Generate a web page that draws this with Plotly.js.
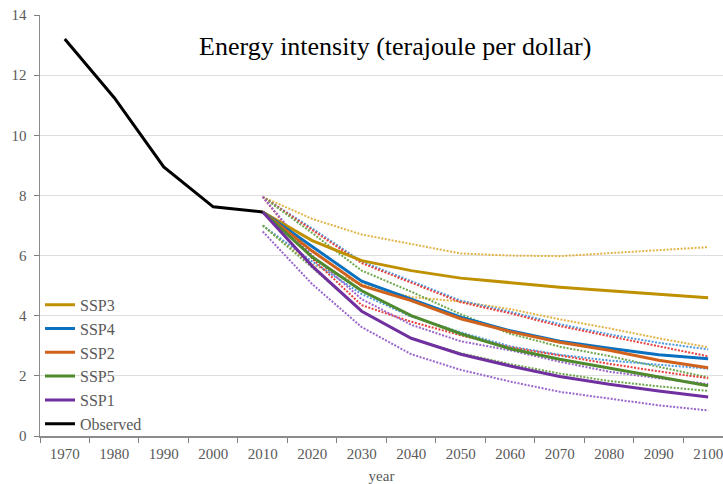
<!DOCTYPE html>
<html>
<head>
<meta charset="utf-8">
<script src="https://cdn.plot.ly/plotly-3.0.1.min.js"></script>
<style>html,body{margin:0;padding:0;overflow:hidden;background:#fff}#chart{width:723px;height:484px}</style>
</head>
<body>
<div id="chart"></div>
<script>
const years = ["1970","1980","1990","2000","2010","2020","2030","2040","2050","2060","2070","2080","2090","2100"];
const obsYears = ["1970","1980","1990","2000","2010"];
const projYears = ["2010","2020","2030","2040","2050","2060","2070","2080","2090","2100"];

const observed = [13.2, 11.25, 8.95, 7.62, 7.45];

const ssp3 = [7.45, 6.5, 5.83, 5.5, 5.25, 5.1, 4.95, 4.83, 4.72, 4.6];
const ssp4 = [7.45, 6.3, 5.15, 4.55, 3.95, 3.5, 3.15, 2.92, 2.7, 2.57];
const ssp2 = [7.45, 6.15, 5.0, 4.5, 3.9, 3.47, 3.12, 2.85, 2.52, 2.27];
const ssp5 = [7.45, 5.95, 4.83, 4.0, 3.4, 2.9, 2.55, 2.25, 1.95, 1.67];
const ssp1 = [7.45, 5.65, 4.15, 3.25, 2.72, 2.33, 1.98, 1.72, 1.5, 1.3];

const goldHi   = [7.95, 7.22, 6.7, 6.38, 6.07, 6.0, 5.98, 6.08, 6.18, 6.28];
const goldLo   = [7.0, 5.7, 5.05, 4.62, 4.47, 4.22, 3.88, 3.58, 3.25, 2.95];
const blueHi   = [7.95, 6.9, 5.8, 5.15, 4.5, 4.13, 3.72, 3.38, 3.1, 2.88];
const redHi    = [7.95, 6.85, 5.75, 5.1, 4.45, 4.08, 3.66, 3.32, 2.98, 2.65];
const greenHi  = [7.95, 6.75, 5.5, 4.8, 4.05, 3.4, 2.97, 2.66, 2.3, 1.95];
const blueLo   = [7.0, 5.8, 4.72, 3.97, 3.45, 2.98, 2.7, 2.51, 2.37, 2.24];
const redLo    = [7.95, 5.9, 4.35, 3.8, 3.35, 2.95, 2.68, 2.4, 2.15, 1.92];
const purpleHi = [7.95, 6.0, 4.55, 3.7, 3.15, 2.85, 2.47, 2.14, 1.92, 1.73];
const greenLo  = [7.0, 5.6, 4.15, 3.25, 2.75, 2.39, 2.08, 1.83, 1.65, 1.5];
const purpleLo = [6.8, 5.05, 3.62, 2.72, 2.2, 1.81, 1.47, 1.25, 1.02, 0.85];

const yTicks = [0, 2, 4, 6, 8, 10, 12, 14];

const dotDash = "2px,1.5px";
function dotted(y, color) {
  return {x: projYears, y: y, type: "scatter", mode: "lines", showlegend: false,
          hoverinfo: "skip", line: {color: color, width: 2, dash: dotDash}};
}
function solid(y, name, color, rank) {
  return {x: projYears, y: y, type: "scatter", mode: "lines", name: name, legendrank: rank,
          line: {color: color, width: 3}};
}

const traces = [
  dotted(goldHi, "#e3b448"),
  dotted(goldLo, "#e3b448"),
  dotted(blueHi, "#4f9be0"),
  dotted(redHi, "#e8403c"),
  dotted(greenHi, "#6fa84c"),
  dotted(blueLo, "#4f9be0"),
  dotted(redLo, "#e8403c"),
  dotted(purpleHi, "#9a66cc"),
  dotted(greenLo, "#6fa84c"),
  dotted(purpleLo, "#9a66cc"),
  solid(ssp3, "SSP3", "#bf9000", 1),
  solid(ssp4, "SSP4", "#0a70c0", 2),
  solid(ssp2, "SSP2", "#d0621c", 3),
  solid(ssp5, "SSP5", "#4f8a2e", 4),
  solid(ssp1, "SSP1", "#7030a0", 5),
  {x: obsYears, y: observed, type: "scatter", mode: "lines", name: "Observed", legendrank: 6,
   line: {color: "#000000", width: 3}}
];

const serif = "Liberation Serif";
const layout = {
  width: 723, height: 484,
  margin: {l: 40, r: 0, t: 15, b: 48},
  paper_bgcolor: "#ffffff", plot_bgcolor: "#ffffff",
  font: {family: serif, size: 14, color: "#595959"},
  title: {text: "Energy intensity (terajoule per dollar)", font: {family: serif, size: 26, color: "#000000"},
          x: 0.52, xref: "paper", y: 0.905, yref: "container", xanchor: "center", yanchor: "middle"},
  xaxis: {type: "category", categoryorder: "array", categoryarray: years,
          range: [-0.5, 13.3], tickson: "boundaries", ticks: "outside", ticklen: 5, tickcolor: "#7f7f7f",
          showline: true, linecolor: "#8c8c8c", linewidth: 1.5, showgrid: false, zeroline: false,
          ticklabelstandoff: 3,
          tickfont: {family: serif, size: 15, color: "#595959"},
          title: {text: "year", font: {family: serif, size: 15, color: "#595959"}, standoff: 10}},
  yaxis: {range: [0, 14], tickvals: yTicks, ticks: "outside", ticklen: 5, tickcolor: "#7f7f7f",
          showline: true, linecolor: "#8c8c8c", linewidth: 1.5, gridcolor: "#dedede", gridwidth: 1,
          zeroline: false, ticklabelstandoff: 4, tickfont: {family: serif, size: 15, color: "#595959"}},
  legend: {x: 0, xanchor: "left", y: 0.352, yanchor: "top", bgcolor: "rgba(0,0,0,0)",
           font: {family: serif, size: 16, color: "#595959"}, itemwidth: 30, tracegroupgap: 0},
  showlegend: true
};

Plotly.newPlot("chart", traces, layout, {displayModeBar: false, staticPlot: true});
</script>
</body>
</html>
